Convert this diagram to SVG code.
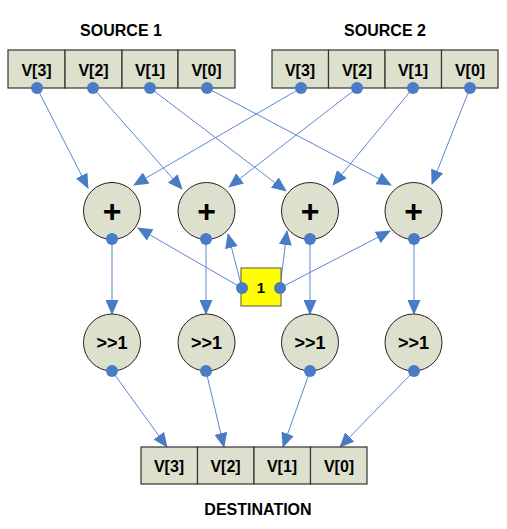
<svg xmlns="http://www.w3.org/2000/svg" width="507" height="529" viewBox="0 0 507 529">
<defs>
<style>
.cell{fill:#dde0cc;stroke:#333;stroke-width:1.2}
.t{font-family:"Liberation Sans",Arial,sans-serif;font-weight:bold;fill:#000;text-anchor:middle}
.op{fill:#dde0cc;stroke:#222;stroke-width:1}
.dot{fill:#4a7cc6}
.c{stroke:#5b87cf;stroke-width:1;fill:none;marker-end:url(#ah)}
</style>
<marker id="ah" markerUnits="userSpaceOnUse" markerWidth="15" markerHeight="13" viewBox="0 0 15 13" refX="14" refY="6.5" orient="auto">
<path d="M0,0 L15,6.5 L0,13 z" fill="#4a7cc6"/>
</marker>
</defs>
<rect width="507" height="529" fill="#fff"/>
<g id="connectors">
<line class="c" x1="37" y1="88" x2="88" y2="188"/>
<line class="c" x1="93" y1="88" x2="182" y2="189"/>
<line class="c" x1="150" y1="88" x2="286" y2="191"/>
<line class="c" x1="207" y1="88" x2="391" y2="185"/>
<line class="c" x1="301" y1="88" x2="134" y2="185"/>
<line class="c" x1="357" y1="88" x2="229" y2="187"/>
<line class="c" x1="413" y1="88" x2="333" y2="185"/>
<line class="c" x1="470" y1="88" x2="432" y2="184"/>
<line class="c" x1="242" y1="288" x2="138" y2="228"/>
<line class="c" x1="242" y1="288" x2="228" y2="234"/>
<line class="c" x1="280" y1="288" x2="287" y2="231"/>
<line class="c" x1="280" y1="288" x2="390" y2="231"/>
<line class="c" x1="112" y1="239" x2="112" y2="314"/>
<line class="c" x1="206" y1="239" x2="206" y2="314"/>
<line class="c" x1="310" y1="239" x2="310" y2="314"/>
<line class="c" x1="414" y1="239" x2="414" y2="314"/>
<line class="c" x1="112" y1="371" x2="167" y2="447"/>
<line class="c" x1="206" y1="371" x2="224" y2="447"/>
<line class="c" x1="310" y1="371" x2="283" y2="447"/>
<line class="c" x1="414" y1="371" x2="340" y2="447"/>
</g>
<g id="source1">
<text class="t" x="121" y="36" font-size="16">SOURCE 1</text>
<rect class="cell" x="8" y="50" width="57" height="38"/>
<rect class="cell" x="65" y="50" width="57" height="38"/>
<rect class="cell" x="122" y="50" width="56" height="38"/>
<rect class="cell" x="178" y="50" width="57" height="38"/>
<text class="t" x="36.5" y="76" font-size="16">V[3]</text>
<text class="t" x="93.5" y="76" font-size="16">V[2]</text>
<text class="t" x="150" y="76" font-size="16">V[1]</text>
<text class="t" x="206.5" y="76" font-size="16">V[0]</text>
<circle class="dot" cx="37" cy="88" r="6"/>
<circle class="dot" cx="93" cy="88" r="6"/>
<circle class="dot" cx="150" cy="88" r="6"/>
<circle class="dot" cx="207" cy="88" r="6"/>
</g>
<g id="source2">
<text class="t" x="385" y="36" font-size="16">SOURCE 2</text>
<rect class="cell" x="272" y="50" width="56.5" height="38"/>
<rect class="cell" x="328.5" y="50" width="56.5" height="38"/>
<rect class="cell" x="385" y="50" width="56.5" height="38"/>
<rect class="cell" x="441.5" y="50" width="56.5" height="38"/>
<text class="t" x="300" y="76" font-size="16">V[3]</text>
<text class="t" x="357" y="76" font-size="16">V[2]</text>
<text class="t" x="413" y="76" font-size="16">V[1]</text>
<text class="t" x="470" y="76" font-size="16">V[0]</text>
<circle class="dot" cx="301" cy="88" r="6"/>
<circle class="dot" cx="357" cy="88" r="6"/>
<circle class="dot" cx="413" cy="88" r="6"/>
<circle class="dot" cx="470" cy="88" r="6"/>
</g>
<g id="add1"><circle class="op" cx="112" cy="211" r="28.5"/><text class="t" x="112" y="222" font-size="32">+</text><circle class="dot" cx="112" cy="239" r="6"/></g>
<g id="add2"><circle class="op" cx="206.5" cy="211" r="28.5"/><text class="t" x="206.5" y="222" font-size="32">+</text><circle class="dot" cx="206" cy="239" r="6"/></g>
<g id="add3"><circle class="op" cx="310" cy="211" r="28.5"/><text class="t" x="310" y="222" font-size="32">+</text><circle class="dot" cx="310" cy="239" r="6"/></g>
<g id="add4"><circle class="op" cx="413.5" cy="211" r="28.5"/><text class="t" x="413.5" y="222" font-size="32">+</text><circle class="dot" cx="414" cy="239" r="6"/></g>
<g id="one">
<rect x="241" y="268" width="40" height="38" fill="#ffff00" stroke="#555" stroke-width="1"/>
<text class="t" x="261" y="293" font-size="15">1</text>
<circle class="dot" cx="242" cy="288" r="6"/>
<circle class="dot" cx="280" cy="288" r="6"/>
</g>
<g id="shift1"><circle class="op" cx="112" cy="342.5" r="28.5"/><text class="t" x="112" y="349" font-size="18">&gt;&gt;1</text><circle class="dot" cx="112" cy="371" r="6"/></g>
<g id="shift2"><circle class="op" cx="206.5" cy="342.5" r="28.5"/><text class="t" x="206.5" y="349" font-size="18">&gt;&gt;1</text><circle class="dot" cx="206" cy="371" r="6"/></g>
<g id="shift3"><circle class="op" cx="310" cy="342.5" r="28.5"/><text class="t" x="310" y="349" font-size="18">&gt;&gt;1</text><circle class="dot" cx="310" cy="371" r="6"/></g>
<g id="shift4"><circle class="op" cx="413.5" cy="342.5" r="28.5"/><text class="t" x="413.5" y="349" font-size="18">&gt;&gt;1</text><circle class="dot" cx="414" cy="371" r="6"/></g>
<g id="destination">
<rect class="cell" x="141" y="447" width="56.5" height="37"/>
<rect class="cell" x="197.5" y="447" width="56.5" height="37"/>
<rect class="cell" x="254" y="447" width="56.5" height="37"/>
<rect class="cell" x="310.5" y="447" width="56.5" height="37"/>
<text class="t" x="169" y="472" font-size="16">V[3]</text>
<text class="t" x="225.5" y="472" font-size="16">V[2]</text>
<text class="t" x="282" y="472" font-size="16">V[1]</text>
<text class="t" x="339" y="472" font-size="16">V[0]</text>
<text class="t" x="258" y="515" font-size="16">DESTINATION</text>
</g>
</svg>
